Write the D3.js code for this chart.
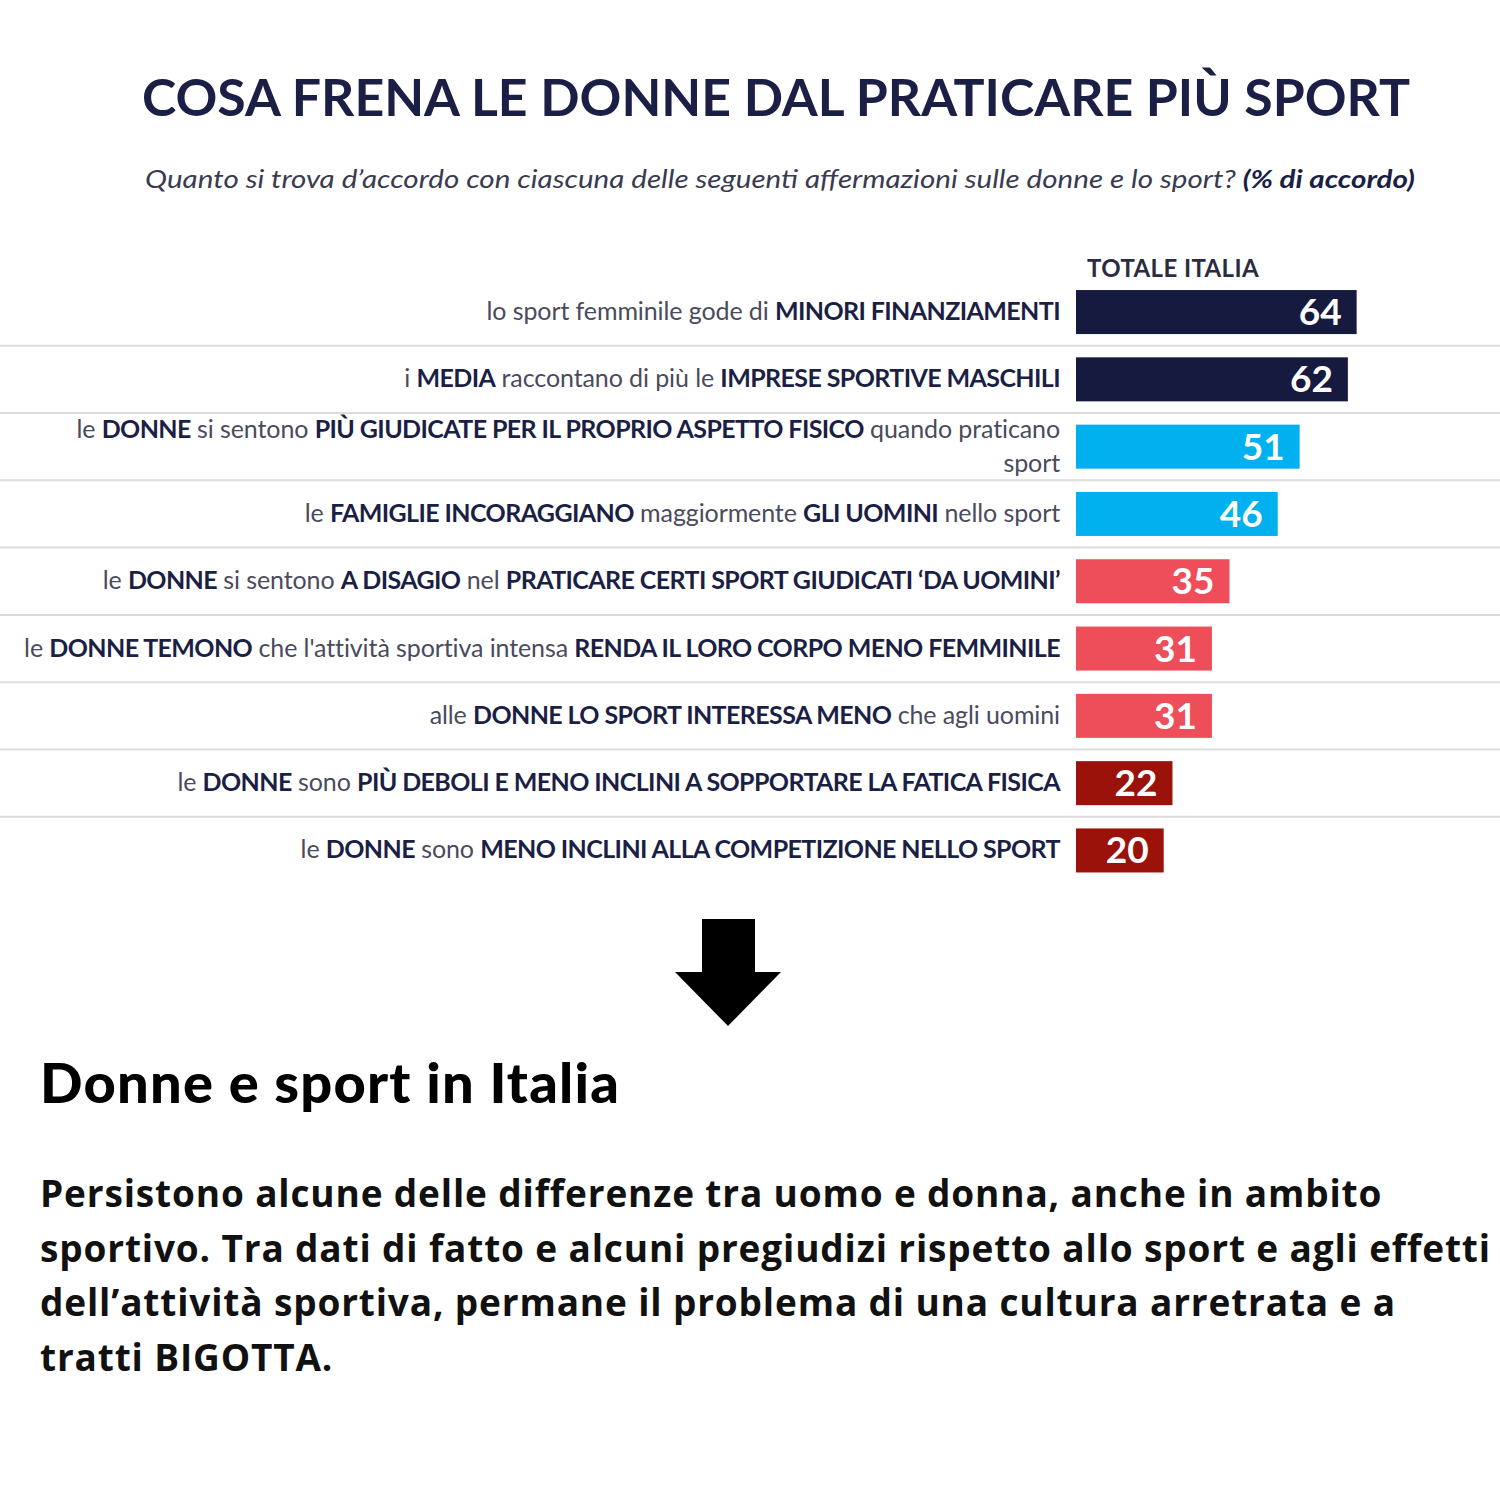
<!DOCTYPE html>
<html>
<head>
<meta charset="utf-8">
<script src="https://cdn.jsdelivr.net/npm/d3@7"></script>
<style>
  body { margin: 0; background: #fff; }
  svg { display: block; }
</style>
</head>
<body>
<div id="chart"></div>
<script>
// each label is a list of lines, each line a list of [text, bold]
var labels = [
  [[['lo sport femminile gode di ', false], ['MINORI FINANZIAMENTI', true]]],
  [[['i ', false], ['MEDIA', true], [' raccontano di più le ', false], ['IMPRESE SPORTIVE MASCHILI', true]]],
  [[['le ', false], ['DONNE', true], [' si sentono ', false], ['PIÙ GIUDICATE PER IL PROPRIO ASPETTO FISICO', true], [' quando praticano', false]],
   [['sport', false]]],
  [[['le ', false], ['FAMIGLIE INCORAGGIANO', true], [' maggiormente ', false], ['GLI UOMINI', true], [' nello sport', false]]],
  [[['le ', false], ['DONNE', true], [' si sentono ', false], ['A DISAGIO', true], [' nel ', false], ['PRATICARE CERTI SPORT GIUDICATI ‘DA UOMINI’', true]]],
  [[['le ', false], ['DONNE TEMONO', true], [' che l\'attività sportiva intensa ', false], ['RENDA IL LORO CORPO MENO FEMMINILE', true]]],
  [[['alle ', false], ['DONNE LO SPORT INTERESSA MENO', true], [' che agli uomini', false]]],
  [[['le ', false], ['DONNE', true], [' sono ', false], ['PIÙ DEBOLI E MENO INCLINI A SOPPORTARE LA FATICA FISICA', true]]],
  [[['le ', false], ['DONNE', true], [' sono ', false], ['MENO INCLINI ALLA COMPETIZIONE NELLO SPORT', true]]]
]
var values = [64, 62, 51, 46, 35, 31, 31, 22, 20]
var groups = ['alto', 'alto', 'medio', 'medio', 'basso', 'basso', 'basso', 'minimo', 'minimo']

var title = 'COSA FRENA LE DONNE DAL PRATICARE PIÙ SPORT'
var subtitle = 'Quanto si trova d’accordo con ciascuna delle seguenti affermazioni sulle donne e lo sport? '
var subtitleBold = '(% di accordo)'
var seriesName = 'TOTALE ITALIA'
var heading = 'Donne e sport in Italia'
var paragraph = [
  'Persistono alcune delle differenze tra uomo e donna, anche in ambito',
  'sportivo. Tra dati di fatto e alcuni pregiudizi rispetto allo sport e agli effetti',
  'dell’attività sportiva, permane il problema di una cultura arretrata e a',
  'tratti BIGOTTA.'
]

var W = 1500, H = 1500
var svg = d3.select('#chart').append('svg')
    .attr('width', W)
    .attr('height', H)

svg.append('rect').attr('width', W).attr('height', H).attr('fill', '#fff')

var navy = '#1c1f45'
var font = 'Lato, "Open Sans", sans-serif'

// titles
svg.append('text')
  .attr('x', 142).attr('y', 116)
  .attr('font-family', font)
  .attr('font-weight', 700)
  .attr('font-size', 52)
  .attr('fill', navy)
  .attr('textLength', 1268)
  .attr('lengthAdjust', 'spacingAndGlyphs')
  .text(title)

var sub = svg.append('text')
  .attr('x', 145).attr('y', 188)
  .attr('font-family', font)
  .attr('font-style', 'italic')
  .attr('font-size', 25)
  .attr('fill', '#3a3b50')
  .attr('textLength', 1270)
  .attr('lengthAdjust', 'spacingAndGlyphs')
sub.append('tspan').text(subtitle)
sub.append('tspan').attr('font-weight', 700).attr('fill', navy).text(subtitleBold)

// scales
var x = d3.scaleLinear().domain([0, 100]).range([1076, 1514.5])
var y = d3.scaleBand().domain(d3.range(values.length))
    .range([278.4, 884.1])
    .paddingInner(0.346)
    .paddingOuter(0.173)
var color = d3.scaleOrdinal()
    .domain(['alto', 'medio', 'basso', 'minimo'])
    .range(['#161a3f', '#00b0ef', '#ee4d5a', '#9a1209'])

var step = y.step()

// separators between rows
svg.append('g').selectAll('line')
  .data(d3.range(1, values.length))
  .join('line')
    .attr('x1', 0).attr('x2', W)
    .attr('y1', d => y(d) - (step - y.bandwidth()) / 2)
    .attr('y2', d => y(d) - (step - y.bandwidth()) / 2)
    .attr('stroke', '#dcdcdc')
    .attr('stroke-width', 2)

svg.append('text')
  .attr('x', 1087).attr('y', 277)
  .attr('font-family', font)
  .attr('font-weight', 700)
  .attr('font-size', 24)
  .attr('letter-spacing', 0.4)
  .attr('fill', '#2a2c40')
  .text(seriesName)

// bars
var bars = svg.append('g').selectAll('g')
  .data(values)
  .join('g')

bars.append('rect')
  .attr('x', x(0))
  .attr('y', (d, i) => y(i))
  .attr('width', d => x(d) - x(0))
  .attr('height', y.bandwidth())
  .attr('fill', (d, i) => color(groups[i]))

bars.append('text')
  .attr('x', d => x(d) - 15)
  .attr('y', (d, i) => y(i) + y.bandwidth() / 2 + 13)
  .attr('text-anchor', 'end')
  .attr('font-family', font)
  .attr('font-weight', 700)
  .attr('font-size', 37)
  .attr('fill', '#fff')
  .text(d => d)

// row labels
var labelG = svg.append('g')
labels.forEach(function(lines, i) {
  var cy = y(i) + y.bandwidth() / 2
  var lh = 34
  lines.forEach(function(segs, j) {
    var t = labelG.append('text')
      .attr('x', 1060)
      .attr('y', cy + 8 + (j - (lines.length - 1) / 2) * lh)
      .attr('text-anchor', 'end')
      .attr('font-family', font)
      .attr('font-size', 25)
    segs.forEach(function(s) {
      t.append('tspan')
        .attr('font-weight', s[1] ? 700 : 400)
        .attr('letter-spacing', s[1] ? -0.6 : -0.1)
        .attr('fill', s[1] ? navy : '#4a4b5c')
        .text(s[0])
    })
  })
})

// arrow
svg.append('path')
  .attr('d', 'M702,919 L755,919 L755,972 L781,972 L728,1026 L675,972 L702,972 Z')
  .attr('fill', '#000')

// text block
svg.append('text')
  .attr('x', 40).attr('y', 1103)
  .attr('font-family', font)
  .attr('font-weight', 900)
  .attr('font-size', 56)
  .attr('letter-spacing', 1.2)
  .attr('fill', '#000')
  .text(heading)

svg.append('g').selectAll('text')
  .data(paragraph)
  .join('text')
    .attr('x', 40)
    .attr('y', (d, i) => 1207 + i * 54.7)
    .attr('font-family', '"Open Sans", sans-serif')
    .attr('font-weight', 700)
    .attr('font-size', 37)
    .attr('letter-spacing', 0.85)
    .attr('fill', '#111')
    .text(d => d)
</script>
</body>
</html>
